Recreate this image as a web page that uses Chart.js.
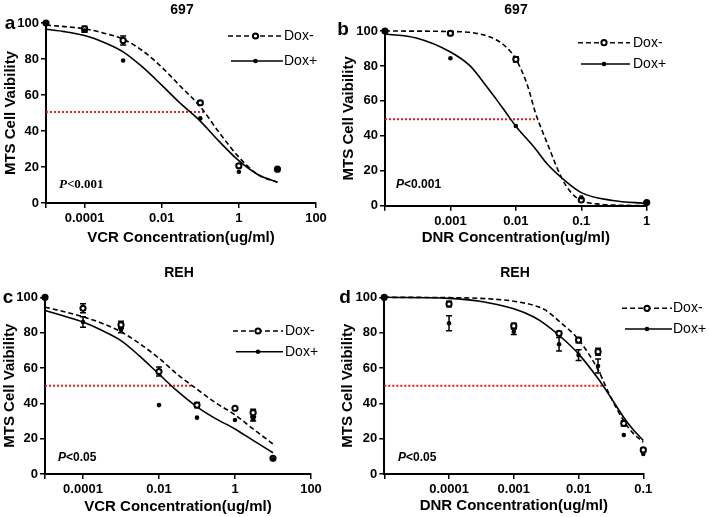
<!DOCTYPE html>
<html>
<head>
<meta charset="utf-8">
<script src="https://cdn.jsdelivr.net/npm/chart.js@4.4.1/dist/chart.umd.min.js"></script>
<style>
  body { margin: 0; background: #fff; }
  #fig { position: relative; width: 709px; height: 517px; overflow: hidden;
         font-family: "Liberation Sans", Arial, sans-serif; color: #000; }
  .panel { position: absolute; }
  .txt { position: absolute; transform: translate(-50%, -50%); font-weight: bold; white-space: nowrap; }
  .pv { position: absolute; transform: translateY(-50%); font-weight: bold; font-size: 12px; white-space: nowrap; }
</style>
</head>
<body>
<div id="fig">
  <div class="panel" style="left:0;top:0"><canvas id="ca" width="338" height="250"></canvas></div>
  <div class="panel" style="left:338px;top:0"><canvas id="cb" width="371" height="250"></canvas></div>
  <div class="panel" style="left:0;top:255px"><canvas id="cc" width="338" height="262"></canvas></div>
  <div class="panel" style="left:338px;top:255px"><canvas id="cd" width="371" height="262"></canvas></div>

  <div class="txt" style="left:182px;top:9px;font-size:14px">697</div>
  <div class="txt" style="left:516px;top:9px;font-size:14px">697</div>
  <div class="txt" style="left:179px;top:272px;font-size:14px">REH</div>
  <div class="txt" style="left:515px;top:272px;font-size:14px">REH</div>

  <div class="txt" style="left:10px;top:23px;font-size:19px">a</div>
  <div class="txt" style="left:343px;top:29px;font-size:19px">b</div>
  <div class="txt" style="left:8px;top:297px;font-size:19px">c</div>
  <div class="txt" style="left:345px;top:297px;font-size:19px">d</div>

  <div class="pv" style="left:59px;top:184px;font-family:'Liberation Serif',serif;font-size:13px"><i>P</i>&lt;0.001</div>
  <div class="pv" style="left:396px;top:184px"><i>P</i>&lt;0.001</div>
  <div class="pv" style="left:58px;top:457px"><i>P</i>&lt;0.05</div>
  <div class="pv" style="left:398px;top:457px"><i>P</i>&lt;0.05</div>
</div>

<script>
// ---- panel a: 697, VCR ----
const concA = [1e-5, 1e-4, 1e-3, 0.1, 1, 10];
const doxMinusA = [100, 96.7, 90.3, 55.7, 20.7, 18.8];
const doxPlusA = [100, 95.8, 79.2, 47, 17.4, 18.8];
const errMinusA = [0, 1.5, 2.5, 1, 1, 0];
const errPlusA = [0, 1, 0, 0, 0, 0];
const fitXA = [1e-5, 3e-5, 1e-4, 3e-4, 1e-3, 3e-3, 0.01, 0.03, 0.1, 0.3, 1, 3, 10];
const fitMinusA = [98.8, 98, 96.8, 94.5, 91, 85, 75.5, 65, 53.5, 39.5, 25.5, 16, 11.5];
const fitPlusA = [96.5, 95.2, 93, 89.5, 84, 76, 65.5, 55.5, 45.5, 34.5, 23.5, 16, 11.5];
const xTicksA = [1e-5, 1e-4, 1e-2, 1, 100];
const xLabelsA = ['', '0.0001', '0.01', '1', '100'];

// ---- panel b: 697, DNR ----
const concB = [1e-4, 1e-3, 0.01, 0.1, 1];
const doxMinusB = [100, 98.7, 83.8, 3.3, 1.8];
const doxPlusB = [100, 84.4, 45.6, 4.8, 1.5];
const errMinusB = [0, 1, 1.5, 0.5, 0];
const errPlusB = [0, 0, 0, 0, 0];
const fitXMinusB = [1e-4, 1e-3, 2e-3, 3e-3, 5e-3, 7e-3, 0.01, 0.015, 0.02, 0.03, 0.05, 0.07, 0.1, 0.2, 0.5, 1];
const fitMinusB = [100, 99.7, 99.2, 98, 95, 91, 84, 69, 53, 36, 16, 7.5, 3, 0.8, 0.2, 0];
const fitXPlusB = [1e-4, 3e-4, 1e-3, 2e-3, 3e-3, 5e-3, 7e-3, 0.01, 0.02, 0.03, 0.05, 0.1, 0.3, 1];
const fitPlusB = [98.3, 96, 88, 80, 72, 61, 53.5, 45.5, 32.5, 24, 16, 7.5, 3, 1.3];
const xTicksB = [1e-4, 1e-3, 1e-2, 0.1, 1];
const xLabelsB = ['', '0.001', '0.01', '0.1', '1'];

// ---- panel c: REH, VCR ----
const concC = [1e-5, 1e-4, 1e-3, 0.01, 0.1, 1, 3, 10];
const doxMinusC = [100, 93.8, 84.4, 58, 39, 37.2, 34.7, 8.9];
const doxPlusC = [100, 86, 81.5, 39, 31.9, 30.6, 31, 8.3];
const errMinusC = [0, 2.5, 2, 2.5, 1.5, 0, 2, 0];
const errPlusC = [0, 3, 1.5, 0, 0, 0, 1, 0];
const fitXC = [1e-5, 3e-5, 1e-4, 3e-4, 1e-3, 3e-3, 0.01, 0.03, 0.1, 0.3, 1, 3, 10];
const fitMinusC = [94.4, 92, 89, 85.5, 80.5, 74, 65.5, 56.5, 48, 40.5, 33.5, 25.5, 17];
const fitPlusC = [92.5, 89.5, 86, 81.5, 75.5, 67, 56.5, 47, 38, 31.5, 25.5, 19, 12];
const xTicksC = [1e-5, 1e-4, 1e-2, 1, 100];
const xLabelsC = ['', '0.0001', '0.01', '1', '100'];

// ---- panel d: REH, DNR ----
const concD = [1e-5, 1e-4, 1e-3, 5e-3, 0.01, 0.02, 0.05, 0.1];
const doxMinusD = [100, 96.2, 83.8, 79.6, 75.8, 69.2, 28.7, 13.6];
const doxPlusD = [100, 85.3, 80.5, 73.4, 67.3, 61.1, 22.1, 11.3];
const errMinusD = [0, 1.5, 1.5, 1, 1.5, 2, 1.5, 1];
const errPlusD = [0, 4.2, 1.5, 3.8, 3, 4, 0, 0];
const fitXD = [1e-5, 1e-4, 3e-4, 1e-3, 2e-3, 3e-3, 5e-3, 0.01, 0.02, 0.03, 0.05, 0.07, 0.1];
const fitMinusD = [100, 99.8, 99.4, 97.8, 95.5, 93, 86.5, 76, 59, 45, 30, 23, 18];
const fitPlusD = [100, 99.4, 97.8, 93.5, 89, 85, 78.5, 68, 54, 44.5, 32, 25, 19];
const xTicksD = [1e-5, 1e-4, 1e-3, 1e-2, 0.1];
const xLabelsD = ['', '0.0001', '0.001', '0.01', '0.1'];

const yTicks = [0, 20, 40, 60, 80, 100];
const yTitle = 'MTS Cell Vaibility';

Chart.defaults.font.family = '"Liberation Sans", Arial, sans-serif';
Chart.defaults.color = '#000';

function zip(xs, ys) {
  return xs.map((x, i) => ({ x: x, y: ys[i] }));
}

// error bars (drawn under the markers)
const errorBars = {
  id: 'errorBars',
  beforeDatasetsDraw(chart) {
    const ctx = chart.ctx;
    const yScale = chart.scales.y;
    ctx.save();
    ctx.strokeStyle = '#000';
    ctx.lineWidth = 1.5;
    chart.data.datasets.forEach((ds, di) => {
      if (!ds.err) return;
      const meta = chart.getDatasetMeta(di);
      meta.data.forEach((pt, i) => {
        const e = ds.err[i];
        if (!e) return;
        const v = ds.data[i].y;
        const y1 = yScale.getPixelForValue(v + e);
        const y2 = yScale.getPixelForValue(v - e);
        ctx.beginPath();
        ctx.moveTo(pt.x, y1); ctx.lineTo(pt.x, y2);
        ctx.moveTo(pt.x - 3, y1); ctx.lineTo(pt.x + 3, y1);
        ctx.moveTo(pt.x - 3, y2); ctx.lineTo(pt.x + 3, y2);
        ctx.stroke();
      });
    });
    ctx.restore();
  }
};

// line + marker legend like the original figure
const lineLegend = {
  id: 'lineLegend',
  afterDraw(chart, args, opts) {
    if (!opts || opts.x0 === undefined) return;
    const ctx = chart.ctx;
    const mid = (opts.x0 + opts.x1) / 2;
    ctx.save();
    ctx.strokeStyle = '#000';
    ctx.lineWidth = 1.6;
    // Dox-
    ctx.setLineDash([5, 3]);
    ctx.beginPath(); ctx.moveTo(opts.x0, opts.yM); ctx.lineTo(opts.x1, opts.yM); ctx.stroke();
    ctx.setLineDash([]);
    ctx.lineWidth = 2;
    ctx.fillStyle = '#fff';
    ctx.beginPath(); ctx.arc(mid, opts.yM, 2.6, 0, Math.PI * 2); ctx.fill(); ctx.stroke();
    // Dox+
    ctx.lineWidth = 1.6;
    ctx.beginPath(); ctx.moveTo(opts.x0 + 3, opts.yP); ctx.lineTo(opts.x1, opts.yP); ctx.stroke();
    ctx.fillStyle = '#000';
    ctx.beginPath(); ctx.arc(mid, opts.yP, 2.3, 0, Math.PI * 2); ctx.fill();
    ctx.font = '14px "Liberation Sans", Arial, sans-serif';
    ctx.textBaseline = 'middle';
    ctx.fillText('Dox-', opts.tx, opts.yM);
    ctx.fillText('Dox+', opts.tx, opts.yP);
    ctx.restore();
  }
};

function makePanel(id, p) {
  const datasets = [
    { label: 'Dox+', data: zip(p.conc, p.plus), showLine: false, pointRadius: 2.3,
      pointBackgroundColor: '#000', pointBorderWidth: 0, err: p.errPlus, clip: false },
    { label: 'Dox-', data: zip(p.conc, p.minus), showLine: false, pointRadius: 2.6,
      pointBorderWidth: 2, pointBorderColor: '#000', pointBackgroundColor: '#fff',
      err: p.errMinus, clip: false },
    { label: 'fit Dox+', data: zip(p.fitXPlus, p.fitPlus), borderColor: '#000', borderWidth: 1.6,
      pointRadius: 0, cubicInterpolationMode: 'monotone', clip: false },
    { label: 'fit Dox-', data: zip(p.fitXMinus, p.fitMinus), borderColor: '#000', borderWidth: 1.6,
      borderDash: [5, 3], pointRadius: 0, cubicInterpolationMode: 'monotone', clip: false },
    { label: 'IC50', data: [{ x: p.xTicks[0], y: p.redY }, { x: p.redEnd, y: p.redY }],
      borderColor: '#e0201b', borderWidth: 2, borderDash: [2, 2], pointRadius: 0, clip: false }
  ];

  return new Chart(document.getElementById(id), {
    type: 'line',
    data: { datasets: datasets },
    plugins: [errorBars, lineLegend],
    options: {
      responsive: false,
      animation: false,
      layout: { padding: { left: 0, right: p.padR, top: p.padT, bottom: 0 } },
      plugins: {
        legend: { display: false },
        tooltip: { enabled: false },
        lineLegend: p.legend
      },
      scales: {
        x: {
          type: 'logarithmic',
          min: p.xTicks[0],
          max: p.xTicks[p.xTicks.length - 1],
          afterBuildTicks: s => { s.ticks = p.xTicks.map(v => ({ value: v })); },
          afterFit: s => { s.height = p.xH; },
          ticks: {
            autoSkip: false, maxRotation: 0, padding: 3,
            font: { size: 13, weight: 'bold' },
            callback: (v, i) => p.xLabels[i]
          },
          grid: { drawOnChartArea: false, drawTicks: true, tickLength: 5, color: '#000', lineWidth: 1.5 },
          border: { display: true, color: '#000', width: 2 },
          title: { display: true, text: p.xTitle, font: { size: 15, weight: 'bold' },
                   padding: { top: 0, bottom: p.xTitlePad } }
        },
        y: {
          min: 0, max: 100,
          afterBuildTicks: s => { s.ticks = yTicks.map(v => ({ value: v })); },
          afterFit: s => { s.width = p.yW; },
          ticks: { padding: 2, font: { size: 13, weight: 'bold' } },
          grid: { drawOnChartArea: false, drawTicks: true, tickLength: 5, color: '#000', lineWidth: 1.5 },
          border: { display: true, color: '#000', width: 2 },
          title: { display: true, text: yTitle, font: { size: 15, weight: 'bold' },
                   padding: { top: p.yTitlePad, bottom: 0 } }
        }
      }
    }
  });
}

makePanel('ca', {
  conc: concA, minus: doxMinusA, plus: doxPlusA, errMinus: errMinusA, errPlus: errPlusA,
  fitXMinus: fitXA, fitMinus: fitMinusA, fitXPlus: fitXA, fitPlus: fitPlusA,
  xTicks: xTicksA, xLabels: xLabelsA, xTitle: 'VCR Concentration(ug/ml)',
  redY: 50.6, redEnd: 0.135,
  padR: 22, padT: 23, xH: 47, yW: 46, xTitlePad: 3, yTitlePad: 2,
  legend: { x0: 228, x1: 283, yM: 36, yP: 61, tx: 284 }
});
makePanel('cb', {
  conc: concB, minus: doxMinusB, plus: doxPlusB, errMinus: errMinusB, errPlus: errPlusB,
  fitXMinus: fitXMinusB, fitMinus: fitMinusB, fitXPlus: fitXPlusB, fitPlus: fitPlusB,
  xTicks: xTicksB, xLabels: xLabelsB, xTitle: 'DNR Concentration(ug/ml)',
  redY: 49.5, redEnd: 0.0215,
  padR: 62.3, padT: 31, xH: 44.3, yW: 47, xTitlePad: 3, yTitlePad: 2,
  legend: { x0: 240, x1: 292, yM: 42.7, yP: 64, tx: 295 }
});
makePanel('cc', {
  conc: concC, minus: doxMinusC, plus: doxPlusC, errMinus: errMinusC, errPlus: errPlusC,
  fitXMinus: fitXC, fitMinus: fitMinusC, fitXPlus: fitXC, fitPlus: fitPlusC,
  xTicks: xTicksC, xLabels: xLabelsC, xTitle: 'VCR Concentration(ug/ml)',
  redY: 50, redEnd: 0.07,
  padR: 27, padT: 42.3, xH: 43, yW: 45, xTitlePad: 1.3, yTitlePad: 1,
  legend: { x0: 233, x1: 283, yM: 76, yP: 96.7, tx: 285 }
});
makePanel('cd', {
  conc: concD, minus: doxMinusD, plus: doxPlusD, errMinus: errMinusD, errPlus: errPlusD,
  fitXMinus: fitXD, fitMinus: fitMinusD, fitXPlus: fitXD, fitPlus: fitPlusD,
  xTicks: xTicksD, xLabels: xLabelsD, xTitle: 'DNR Concentration(ug/ml)',
  redY: 50, redEnd: 0.0254,
  padR: 65.7, padT: 42.3, xH: 43, yW: 46.3, xTitlePad: 2.3, yTitlePad: 0.5,
  legend: { x0: 284, x1: 334, yM: 53.3, yP: 74, tx: 335 }
});
</script>
</body>
</html>
